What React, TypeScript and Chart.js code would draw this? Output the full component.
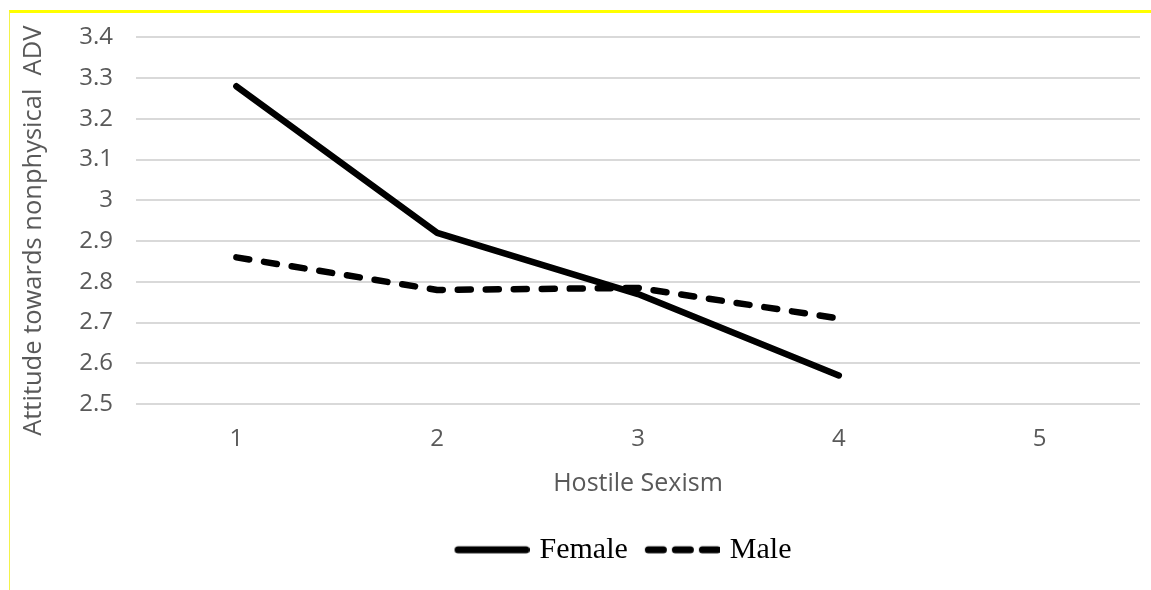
import React, { useEffect, useRef } from "react";
import { Chart, registerables } from "chart.js";

Chart.register(...registerables);

// ---- data ----
const categories: string[] = ["1", "2", "3", "4", "5"];
const femaleValues: (number | null)[] = [3.28, 2.92, 2.77, 2.57, null];
const maleValues: (number | null)[] = [2.86, 2.78, 2.785, 2.71, null];
const seriesNames: string[] = ["Female", "Male"];
const yMin = 2.5;
const yMax = 3.4;
const yStep = 0.1;
const xTitle = "Hostile Sexism";
const yTitle = "Attitude towards nonphysical  ADV";

const axisFont = "'Open Sans', 'Noto Sans', sans-serif";
const axisColor = "#595959";

function legendSwatch(dashed: boolean): HTMLCanvasElement {
  const c = document.createElement("canvas");
  c.width = 80;
  c.height = 12;
  const ctx = c.getContext("2d")!;
  ctx.strokeStyle = "#000000";
  ctx.lineWidth = 7;
  ctx.lineCap = "round";
  if (dashed) ctx.setLineDash([15, 12]);
  ctx.beginPath();
  ctx.moveTo(8.5, 6);
  ctx.lineTo(dashed ? 77.5 : 76.5, 6);
  ctx.stroke();
  return c;
}

// y-axis title drawn as rotated text, centred a little below the plot centre as in the source
const yTitlePlugin = {
  id: "yTitleText",
  afterDraw(chart: any) {
    const { ctx, chartArea } = chart;
    ctx.save();
    ctx.translate(34, (chartArea.top + chartArea.bottom) / 2 + 10);
    ctx.rotate(-Math.PI / 2);
    ctx.font = `25.5px ${axisFont}`;
    ctx.fillStyle = axisColor;
    ctx.textAlign = "center";
    ctx.textBaseline = "middle";
    ctx.fillText(yTitle, 0, 0);
    ctx.restore();
  },
};

// nudge the legend row slightly left of the plot centre, as in the source
const legendShiftPlugin = {
  id: "legendShift",
  afterUpdate(chart: any) {
    const lg = chart.legend;
    if (lg) {
      lg.left -= 15;
      lg.right -= 15;
    }
  },
};

export default function App() {
  const canvasRef = useRef<HTMLCanvasElement | null>(null);

  useEffect(() => {
    document.body.style.margin = "0";
    const canvas = canvasRef.current;
    if (!canvas) return;
    const swatches = [legendSwatch(false), legendSwatch(true)];
    const chart = new Chart(canvas, {
      type: "line",
      data: {
        labels: categories,
        datasets: [
          {
            label: seriesNames[0],
            data: femaleValues,
            borderColor: "#000000",
            backgroundColor: "#000000",
            borderWidth: 6.5,
            borderCapStyle: "round",
            borderJoinStyle: "round",
            pointRadius: 0,
            pointHoverRadius: 0,
            tension: 0,
            fill: false,
          },
          {
            label: seriesNames[1],
            data: maleValues,
            borderColor: "#000000",
            backgroundColor: "#000000",
            borderWidth: 6.5,
            borderDash: [13, 15],
            borderCapStyle: "round",
            borderJoinStyle: "round",
            pointRadius: 0,
            pointHoverRadius: 0,
            tension: 0,
            fill: false,
          },
        ],
      },
      options: {
        animation: false,
        responsive: true,
        maintainAspectRatio: false,
        layout: { padding: { top: 34, left: 13, right: 11, bottom: 15.2 } },
        plugins: {
          tooltip: { enabled: false },
          legend: {
            position: "bottom",
            fullSize: false,
            labels: {
              usePointStyle: true,
              pointStyleWidth: 70,
              padding: 17,
              color: "#000000",
              font: { family: "'Liberation Serif', 'Times New Roman', serif", size: 30 },
              generateLabels: (ch: any) => {
                const items = Chart.defaults.plugins.legend.labels.generateLabels(ch);
                return items.map((it: any, i: number) => ({ ...it, pointStyle: swatches[i] }));
              },
            },
          },
        },
        scales: {
          x: {
            type: "category",
            offset: true,
            grid: { display: false, drawTicks: false },
            border: { display: false },
            ticks: { color: axisColor, font: { family: axisFont, size: 24 }, padding: 21 },
            title: {
              display: true,
              text: xTitle,
              color: axisColor,
              font: { family: axisFont, size: 25 },
              padding: { top: -6, bottom: 19 },
            },
          },
          y: {
            min: yMin,
            max: yMax,
            grid: { color: "#d9d9d9", lineWidth: 2, drawTicks: false },
            border: { display: false },
            ticks: {
              stepSize: yStep,
              color: axisColor,
              font: { family: axisFont, size: 24 },
              padding: 23,
              callback: (v: any) => String(Math.round(Number(v) * 10) / 10),
            },
            title: { display: false, text: yTitle },
            afterFit: (s: any) => {
              s.width = 123;
            },
          },
        },
      },
      plugins: [yTitlePlugin, legendShiftPlugin],
    });
    return () => chart.destroy();
  }, []);

  return (
    <div
      style={{
        position: "fixed",
        left: 0,
        top: 0,
        width: 1151,
        height: 590,
        background: "#ffffff",
        overflow: "hidden",
      }}
    >
      <canvas ref={canvasRef} style={{ position: "absolute", left: 0, top: 0 }} />
      <div
        style={{
          position: "absolute",
          left: 9,
          top: 10,
          right: 0,
          bottom: 0,
          borderTop: "3px solid #ffff00",
          borderLeft: "1px solid #f3f34a",
          pointerEvents: "none",
        }}
      />
    </div>
  );
}
